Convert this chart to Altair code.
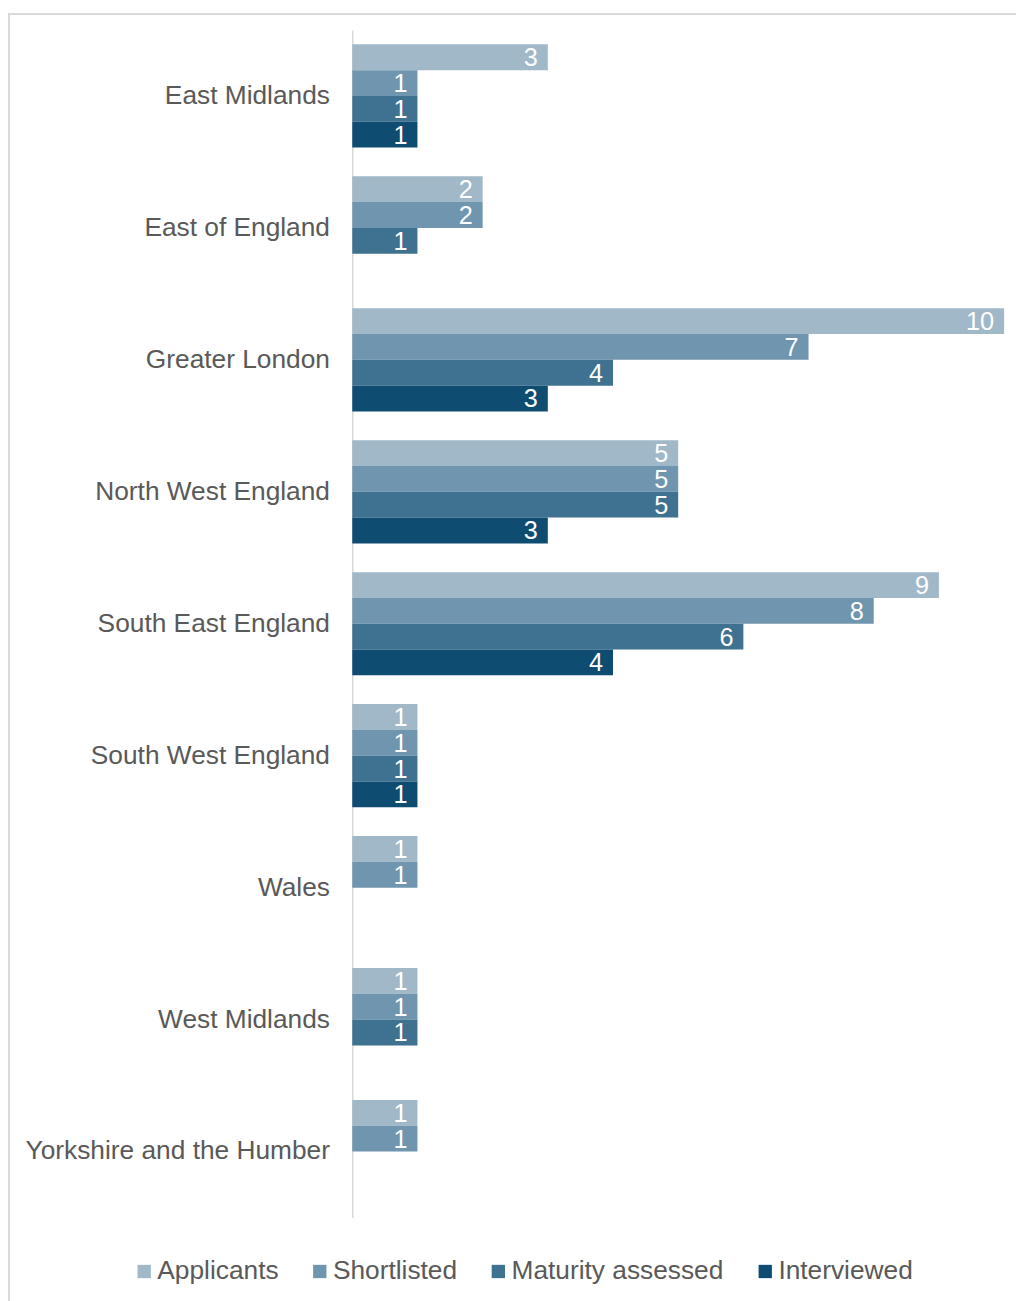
import altair as alt
import pandas as pd

regions = ["East Midlands", "East of England", "Greater London", "North West England",
           "South East England", "South West England", "Wales", "West Midlands",
           "Yorkshire and the Humber"]
series = ["Applicants", "Shortlisted", "Maturity assessed", "Interviewed"]
applicants = [3, 2, 10, 5, 9, 1, 1, 1, 1]
shortlisted = [1, 2, 7, 5, 8, 1, 1, 1, 1]
maturity = [1, 1, 4, 5, 6, 1, None, 1, None]
interviewed = [1, None, 3, 3, 4, 1, None, None, None]
colors = ["#A1B8C8", "#7095AE", "#3F7291", "#0F4C72"]

rows = []
for s, vals in zip(series, [applicants, shortlisted, maturity, interviewed]):
    for r, v in zip(regions, vals):
        if v is not None:
            rows.append({"region": r, "series": s, "value": v})
df = pd.DataFrame(rows)

FONT = "Liberation Sans"

y_enc = alt.Y("region:N", sort=regions, title=None,
              scale=alt.Scale(paddingInner=0.218, paddingOuter=0.109),
              axis=alt.Axis(ticks=False, domainColor="#d9d9d9", domainWidth=1.5,
                            labelFontSize=26.5, labelColor="#595959", labelFont=FONT,
                            labelPadding=23, labelLimit=400))
yoff = alt.YOffset("series:N", sort=series, scale=alt.Scale(paddingInner=0, paddingOuter=0))
x_enc = alt.X("value:Q", scale=alt.Scale(domain=[0, 10], nice=False), axis=None, title=None)

bars = alt.Chart(df).mark_bar(size=26).encode(
    y=y_enc, yOffset=yoff, x=x_enc,
    color=alt.Color("series:N", sort=series,
                    scale=alt.Scale(domain=series, range=colors),
                    legend=alt.Legend(title=None, orient="none", direction="horizontal",
                                      legendX=-223, legendY=1238,
                                      symbolType="square", symbolSize=180,
                                      symbolStrokeWidth=0,
                                      labelFontSize=26.5, labelColor="#595959", labelFont=FONT,
                                      labelOffset=0, columnPadding=28, padding=0,
                                      labelLimit=400)),
)

labels = alt.Chart(df).mark_text(align="right", baseline="middle", dx=-10, dy=1,
                                 color="white", fontSize=25.5, font=FONT).encode(
    y=alt.Y("region:N", sort=regions), yOffset=alt.YOffset("series:N", sort=series),
    x=alt.X("value:Q"), text="value:Q",
)

frame_df = pd.DataFrame({"k": [0]})
left_rule = alt.Chart(frame_df).mark_rule(color="#d9d9d9", strokeWidth=2).encode(
    x=alt.value(-346), y=alt.value(-17), y2=alt.value(1290))
top_rule = alt.Chart(frame_df).mark_rule(color="#d9d9d9", strokeWidth=2).encode(
    x=alt.value(-347), x2=alt.value(690), y=alt.value(-16))

chart = alt.layer(bars, labels, left_rule, top_rule).properties(
    width=657, height=1197,
    autosize=alt.AutoSizeParams(type="none"),
    padding={"left": 347, "top": 17, "right": 12, "bottom": 79},
).configure(font=FONT).configure_view(stroke=None)

chart.save("out.html", embed_options={"renderer": "svg", "actions": False})
